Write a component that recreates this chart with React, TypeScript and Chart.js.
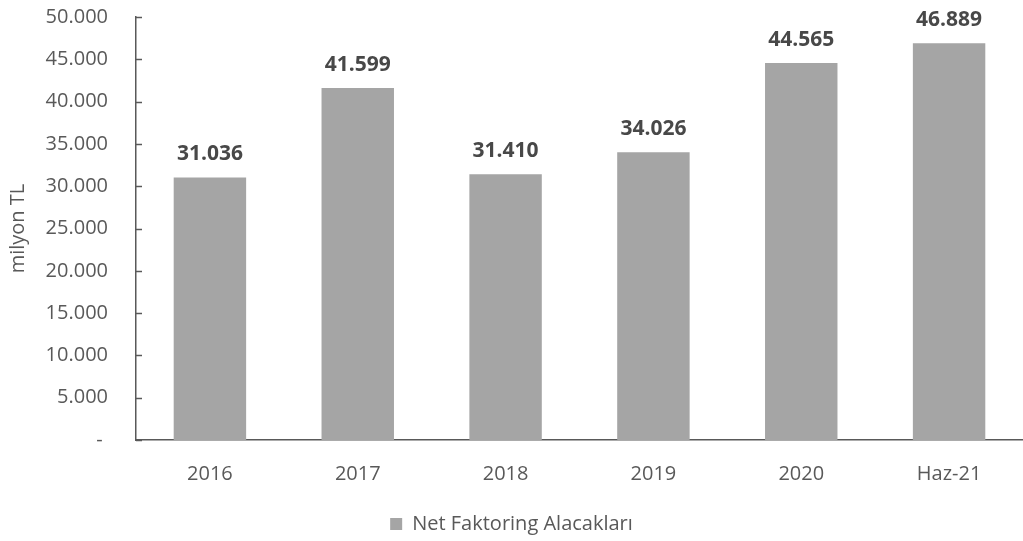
import React, { useEffect, useRef } from "react";
import { Chart, registerables } from "chart.js";

Chart.register(...registerables);

const categories = ["2016", "2017", "2018", "2019", "2020", "Haz-21"];
const values = [31036, 41599, 31410, 34026, 44565, 46889];
const valueLabels = ["31.036", "41.599", "31.410", "34.026", "44.565", "46.889"];
const seriesName = "Net Faktoring Alacakları";
const yTitle = "milyon TL";

const FONT = "'Open Sans', Lato, sans-serif";
const TEXT = "#595959";
const BAR = "#a5a5a5";

function fmt(v: number): string {
  if (v === 0) return "- ";
  return v.toLocaleString("de-DE");
}

export default function App() {
  const ref = useRef<HTMLCanvasElement | null>(null);
  useEffect(() => {
    document.body.style.margin = "0";
    const canvas = ref.current!;
    const labelPlugin = {
      id: "valueLabels",
      afterDatasetsDraw(chart: any) {
        const ctx = chart.ctx;
        const meta = chart.getDatasetMeta(0);
        ctx.save();
        ctx.font = `bold 21px ${FONT}`;
        ctx.fillStyle = "#484848";
        ctx.textAlign = "center";
        ctx.textBaseline = "middle";
        meta.data.forEach((el: any, i: number) => {
          ctx.fillText(valueLabels[i], el.x, el.y - 23);
        });
        ctx.restore();
      },
    };
    const tickPlugin = {
      id: "innerTicks",
      afterDraw(chart: any) {
        const ctx = chart.ctx;
        const y = chart.scales.y;
        const x0 = chart.chartArea.left;
        ctx.save();
        ctx.strokeStyle = TEXT;
        ctx.lineWidth = 1.5;
        y.ticks.forEach((t: any) => {
          const py = Math.round(y.getPixelForValue(t.value)) + 0.5;
          ctx.beginPath();
          ctx.moveTo(x0, py);
          ctx.lineTo(x0 + 6, py);
          ctx.stroke();
        });
        ctx.restore();
      },
    };
    const chart = new Chart(canvas, {
      type: "bar",
      data: {
        labels: categories,
        datasets: [
          {
            label: seriesName,
            data: values,
            backgroundColor: BAR,
            borderWidth: 0,
            barPercentage: 0.49,
            categoryPercentage: 1,
          },
        ],
      },
      options: {
        animation: false,
        responsive: false,
        maintainAspectRatio: false,
        layout: { padding: { top: 0, right: 0, bottom: 0, left: 0 } },
        plugins: {
          tooltip: { enabled: false },
          legend: {
            display: true,
            position: "bottom",
            labels: {
              color: TEXT,
              font: { family: FONT, size: 20 },
              boxWidth: 12,
              boxHeight: 12,
              padding: 6,
            },
          },
        },
        scales: {
          x: {
            afterFit(scale: any) {
              scale.height = 68;
            },
            grid: { display: false, drawTicks: false },
            border: { display: true, color: TEXT, width: 1.5 },
            ticks: { color: TEXT, font: { family: FONT, size: 20 }, padding: 22 },
          },
          y: {
            min: 0,
            max: 50000,
            afterFit(scale: any) {
              scale.width = 136;
            },
            grid: { display: false, drawTicks: false },
            border: { display: true, color: TEXT, width: 1.5 },
            title: {
              display: true,
              text: yTitle,
              color: TEXT,
              font: { family: FONT, size: 20 },
              padding: { top: 6, bottom: 0 },
            },
            ticks: {
              stepSize: 5000,
              color: TEXT,
              font: { family: FONT, size: 20 },
              padding: 28,
              callback: (v: any) => fmt(Number(v)),
            },
          },
        },
      },
      plugins: [labelPlugin, tickPlugin],
    });
    return () => chart.destroy();
  }, []);
  return (
    <div style={{ position: "absolute", left: 0, top: 0, width: 1023, height: 541, overflow: "hidden", background: "#fff" }}>
      <canvas ref={ref} width={1023} height={567} style={{ position: "absolute", left: 0, top: -23, width: 1023, height: 567 }} />
    </div>
  );
}
